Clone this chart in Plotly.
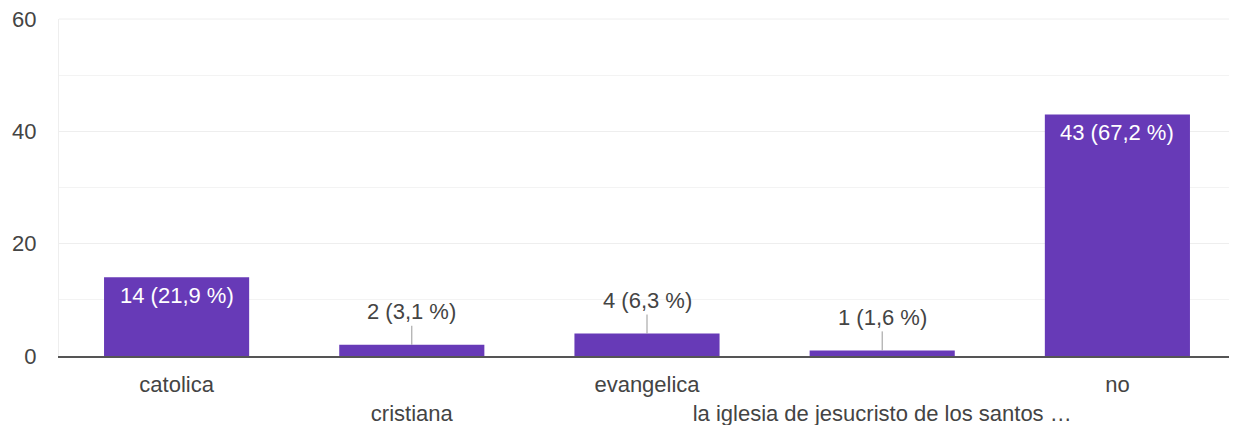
import plotly.graph_objects as go

categories = ["catolica", "cristiana", "evangelica",
              "la iglesia de jesucristo de los santos …", "no"]
counts = [14, 2, 4, 1, 43]
percents = ["21,9", "3,1", "6,3", "1,6", "67,2"]
y_ticks = [0, 20, 40, 60]

BAR = "#673ab7"
FONT = "Liberation Sans, Arial, sans-serif"
TXT = "#444444"

labels = [f"{c} ({p} %)" for c, p in zip(counts, percents)]
# alternate label rows like the reference
ticktext = [c if i % 2 == 0 else "<br>" + c for i, c in enumerate(categories)]

fig = go.Figure(go.Bar(x=categories, y=counts, marker=dict(color=BAR, line=dict(width=0)),
                       hoverinfo="skip"))

annotations = []
for cat, v, lab in zip(categories, counts, labels):
    if v >= 10:
        annotations.append(dict(x=cat, y=v, xref="x", yref="y", text=lab, showarrow=False,
                                yanchor="top", yshift=-4,
                                font=dict(family=FONT, size=22, color="white")))
    else:
        annotations.append(dict(x=cat, y=v, xref="x", yref="y", text=lab, showarrow=True,
                                ax=0, ay=-33, arrowhead=0, arrowwidth=1, arrowcolor="#999999",
                                standoff=0,
                                font=dict(family=FONT, size=22, color=TXT)))

fig.update_layout(
    width=1229, height=417,
    margin=dict(l=51, r=2, t=11, b=69),
    plot_bgcolor="white", paper_bgcolor="white",
    bargap=0.383,
    showlegend=False,
    font=dict(family=FONT, size=22, color=TXT),
    annotations=annotations,
    shapes=[dict(type="line", xref="paper", yref="paper", x0=0, x1=1, y0=1, y1=1,
                 line=dict(color="#eeeeee", width=1), layer="below")],
    xaxis=dict(tickmode="array", tickvals=categories, ticktext=ticktext,
               tickangle=0, automargin=False, ticklabeloverflow="allow",
               showline=True, linecolor="#555555", linewidth=2, ticks="",
               showgrid=False, zeroline=False, fixedrange=True,
               tickfont=dict(family=FONT, size=22, color=TXT), ticklabelstandoff=8),
    yaxis=dict(range=[0, 60], tickvals=y_ticks, showgrid=True, gridcolor="#eeeeee",
               automargin=False, ticklabeloverflow="allow",
               gridwidth=1, zeroline=False, showline=True, linecolor="#eeeeee", mirror=True,
               ticks="", ticklabelstandoff=17,
               minor=dict(dtick=10, showgrid=True, gridcolor="#f3f3f3", gridwidth=1),
               tickfont=dict(family=FONT, size=22, color=TXT)),
)

fig.write_html("out.html")
